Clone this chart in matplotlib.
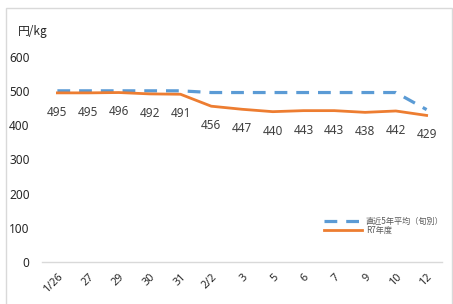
import matplotlib
matplotlib.use("Agg")
import matplotlib.pyplot as plt
from matplotlib.patches import Rectangle

plt.rcParams['font.family'] = ['Noto Sans CJK JP', 'DejaVu Sans']

categories = ["1/26", "27", "29", "30", "31", "2/2", "3", "5", "6", "7", "9", "10", "12"]
avg5 = [501, 501, 501, 501, 501, 496, 496, 496, 496, 496, 496, 496, 446]
r7 = [495, 495, 496, 492, 491, 456, 447, 440, 443, 443, 438, 442, 429]
yticks = [0, 100, 200, 300, 400, 500, 600]

W, H = 453, 304
fig = plt.figure(figsize=(W / 100, H / 100), dpi=100)
fig.patch.set_facecolor("white")
fig.patches.append(Rectangle((6 / W, -0.05), (452 - 6) / W, 1.05 - 8 / H,
                             transform=fig.transFigure, fill=False,
                             edgecolor="#d9d9d9", linewidth=1.0))

ax = fig.add_axes([42 / W, (H - 262) / H, 400 / W, 205 / H])
x = list(range(len(categories)))
ax.plot(x, avg5, color="#5B9BD5", linewidth=2.3, dashes=(4, 2.8),
        label="直近5年平均（旬別）", solid_capstyle="butt", dash_capstyle="butt")
ax.plot(x, r7, color="#ED7D31", linewidth=2.0, label="R7年度")

num_font = ["Noto Sans", "DejaVu Sans"]
for xi, v in zip(x, r7):
    ax.annotate(str(v), (xi, v), xytext=(0, -14), textcoords="offset points",
                ha="center", va="center", fontsize=8.5, color="#404040",
                family=num_font)

ax.set_xlim(-0.5, len(categories) - 0.5)
ax.set_ylim(0, 600)
ax.set_yticks(yticks)
ax.set_xticks(x)
ax.set_xticklabels(categories, rotation=45, ha="right", va="top",
                   rotation_mode="anchor")
for s in ["top", "right", "left"]:
    ax.spines[s].set_visible(False)
ax.spines["bottom"].set_color("#d9d9d9")
ax.spines["bottom"].set_linewidth(1.0)
ax.tick_params(axis="both", length=0, colors="#262626")
ax.tick_params(axis="y", pad=9, labelsize=8.5)
ax.tick_params(axis="x", pad=7, labelsize=7.8)
for lab in ax.get_xticklabels() + ax.get_yticklabels():
    lab.set_family(num_font)

fig.text(18 / W, 1 - 32 / H, "円/kg", fontsize=8.5, color="#262626",
         ha="left", va="center")

leg = ax.legend(loc="upper left", bbox_to_anchor=(320 / W, 1 - 213 / H),
                bbox_transform=fig.transFigure, frameon=False, fontsize=5.9,
                handlelength=4.6, labelspacing=0.0, handletextpad=0.5,
                borderpad=0.0)
for t in leg.get_texts():
    t.set_color("#595959")

fig.savefig("out.png", dpi=100, facecolor="white")
